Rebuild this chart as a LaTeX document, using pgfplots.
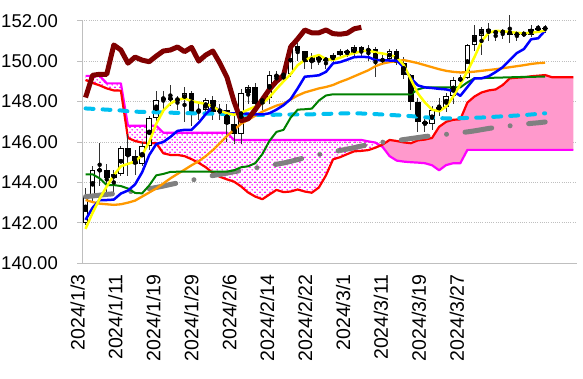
\documentclass[border=0pt]{standalone}
\usepackage{fontspec}
\setmainfont{Liberation Sans}
\usepackage{pgfplots}
\usepackage{pgfplotstable}
\pgfplotsset{compat=1.18}
\usepgfplotslibrary{fillbetween}
\usetikzlibrary{patterns.meta}

\definecolor{cyel}{RGB}{255,255,0}
\definecolor{cblu}{RGB}{0,0,255}
\definecolor{cgrn}{RGB}{0,128,0}
\definecolor{corg}{RGB}{255,153,0}
\definecolor{ccyn}{RGB}{0,192,240}
\definecolor{cgry}{RGB}{128,128,128}
\definecolor{cred}{RGB}{255,0,0}
\definecolor{cmag}{RGB}{255,0,255}
\definecolor{cmar}{RGB}{128,0,0}
\definecolor{cpnk}{RGB}{255,153,204}
\definecolor{caxis}{RGB}{191,191,191}

\pgfdeclarepattern{
  name=pinkdots,
  type=colored,
  bottom left={\pgfpoint{0pt}{0pt}},
  top right={\pgfpoint{5.4pt}{5.4pt}},
  tile size={\pgfpoint{5.4pt}{5.4pt}},
  code={
    \pgfsetfillcolor{cmag}
    \pgfpathcircle{\pgfpoint{1.35pt}{1.35pt}}{0.85pt}
    \pgfpathcircle{\pgfpoint{4.05pt}{4.05pt}}{0.85pt}
    \pgfusepath{fill}
  }
}

\pgfplotstableread{
i O H L C
0 142.0 143.7 141.9 143.3
1 143.3 144.8 143.0 144.6
2 144.55 145.95 143.8 144.65
3 144.6 144.9 143.4 144.2
4 144.2 144.6 143.4 144.4
5 144.4 145.8 144.3 145.7
6 145.7 146.4 144.3 145.3
7 145.3 145.6 144.35 144.9
8 144.9 146.0 144.8 145.8
9 145.8 147.3 145.6 147.2
10 147.2 148.5 147.0 148.1
11 148.1 148.5 147.6 148.2
12 148.2 148.8 147.8 148.1
13 148.05 148.3 147.6 148.15
14 148.1 148.7 146.97 148.4
15 148.4 148.5 146.8 147.5
16 147.5 147.9 147.1 147.6
17 147.6 148.2 147.3 148.1
18 148.1 148.3 147.1 147.5
19 147.5 147.9 147.1 147.6
20 147.6 147.9 146.0 146.9
21 146.9 147.3 145.9 146.4
22 146.4 148.6 145.9 148.4
23 148.4 148.8 147.9 148.7
24 148.7 148.9 147.6 147.9
25 147.9 148.3 147.6 148.2
26 148.2 149.5 147.9 149.3
27 149.25 149.5 148.8 149.3
28 149.3 149.5 148.9 149.35
29 149.35 150.9 149.2 150.75
30 150.75 150.9 150.0 150.5
31 150.5 150.5 149.6 149.95
32 149.95 150.4 149.6 150.2
33 150.2 150.25 149.8 150.05
34 150.05 150.2 149.6 150.1
35 150.1 150.4 149.9 150.3
36 150.3 150.6 150.2 150.5
37 150.5 150.6 150.2 150.4
38 150.4 150.8 150.2 150.7
39 150.7 150.75 150.2 150.5
40 150.5 150.8 150.0 150.6
41 150.6 150.7 149.2 150.0
42 150.0 150.3 149.8 150.1
43 150.1 150.6 150.0 150.5
44 150.5 150.6 149.8 149.9
45 149.9 150.2 149.1 149.3
46 149.3 149.35 147.6 148.0
47 148.0 148.2 146.5 147.0
48 147.0 147.3 146.5 146.9
49 146.9 147.8 146.6 147.6
50 147.6 148.2 147.3 147.75
51 147.75 148.4 147.5 148.3
52 148.3 149.2 147.9 149.05
53 149.05 149.3 148.9 149.15
54 149.15 150.85 149.1 150.8
55 150.8 151.8 150.5 151.3
56 151.25 151.7 150.3 151.6
57 151.6 151.9 151.0 151.42
58 151.45 151.5 151.0 151.4
59 151.4 151.6 151.1 151.5
60 151.5 152.3 150.9 151.3
61 151.3 151.5 151.0 151.35
62 151.35 151.5 151.2 151.3
63 151.3 151.8 151.2 151.6
64 151.6 151.8 151.5 151.6
65 151.6 151.8 151.4 151.65
}\candles

\pgfplotstableread{
i yel blu grn org cyn gry
0 141.7 142.15 144.4 143.13 147.66 143.3
1 142.5 142.75 144.4 143.03 147.64 143.33
2 143.2 143.13 144.2 142.95 147.62 143.37
3 143.8 143.13 143.87 142.92 147.6 143.41
4 144.35 143.15 143.87 142.89 147.58 143.44
5 144.8 143.45 143.82 142.92 147.56 143.48
6 144.92 143.6 143.7 143.0 147.52 143.53
7 145.03 143.9 143.48 143.1 147.5 143.58
8 145.35 144.5 143.46 143.3 147.49 143.64
9 146.0 145.35 143.85 143.5 147.48 143.69
10 146.9 145.9 144.35 143.7 147.47 143.75
11 147.55 146.0 144.42 143.95 147.46 143.82
12 147.9 146.25 144.52 144.2 147.45 143.9
13 148.1 146.55 144.53 144.42 147.44 143.97
14 148.15 146.6 144.53 144.63 147.43 144.04
15 148.02 146.6 144.53 144.85 147.42 144.11
16 147.95 146.95 144.53 145.05 147.42 144.19
17 147.88 147.38 144.53 145.3 147.41 144.26
18 147.75 147.74 144.53 145.6 147.4 144.34
19 147.55 147.58 144.53 145.95 147.39 144.4
20 147.42 147.42 144.53 146.3 147.38 144.46
21 147.35 147.42 144.6 146.6 147.37 144.53
22 147.45 147.42 144.75 146.9 147.36 144.59
23 147.6 147.4 144.8 147.1 147.35 144.65
24 147.75 147.36 144.95 147.3 147.35 144.71
25 147.9 147.36 145.4 147.5 147.34 144.78
26 148.22 147.42 146.05 147.65 147.34 144.84
27 148.62 147.6 146.5 147.8 147.35 144.9
28 149.0 147.82 146.6 147.9 147.35 144.96
29 149.35 148.12 147.2 148.1 147.36 145.04
30 149.8 148.65 147.6 148.3 147.36 145.13
31 150.05 149.23 147.62 148.45 147.37 145.22
32 150.2 149.26 147.65 148.55 147.37 145.31
33 150.3 149.3 148.05 148.65 147.38 145.38
34 150.1 149.47 148.3 148.72 147.39 145.45
35 150.06 149.89 148.36 148.82 147.4 145.52
36 150.17 149.95 148.36 148.97 147.41 145.58
37 150.3 150.07 148.36 149.1 147.42 145.65
38 150.4 150.2 148.36 149.25 147.42 145.72
39 150.48 150.21 148.36 149.4 147.41 145.8
40 150.53 150.2 148.36 149.55 147.4 145.87
41 150.43 150.05 148.36 149.75 147.38 145.94
42 150.38 150.04 148.36 149.88 147.36 145.99
43 150.3 150.03 148.36 149.95 147.34 146.03
44 150.2 150.03 148.36 150.0 147.32 146.07
45 149.8 149.7 148.36 150.05 147.3 146.12
46 149.1 149.15 148.36 149.98 147.28 146.17
47 148.4 148.8 148.6 149.9 147.25 146.22
48 147.95 148.7 148.7 149.8 147.22 146.27
49 147.6 148.67 148.7 149.7 147.2 146.31
50 147.52 148.63 148.7 149.6 147.18 146.35
51 147.75 148.6 148.7 149.52 147.17 146.38
52 148.25 148.52 148.7 149.47 147.17 146.42
53 148.85 148.28 148.7 149.44 147.18 146.46
54 149.5 148.72 148.95 149.45 147.19 146.5
55 150.2 149.15 149.15 149.48 147.2 146.55
56 150.98 149.15 149.16 149.52 147.21 146.61
57 151.4 149.25 149.17 149.56 147.23 146.67
58 151.5 149.46 149.18 149.6 147.25 146.72
59 151.48 149.7 149.19 149.65 147.27 146.76
60 151.44 150.05 149.2 149.7 147.29 146.8
61 151.4 150.4 149.21 149.75 147.31 146.84
62 151.38 150.6 149.22 149.8 147.33 146.88
63 151.4 151.08 149.22 149.86 147.36 146.92
64 151.45 151.13 149.23 149.9 147.39 146.95
65 151.51 151.51 149.23 149.92 147.42 146.99
}\lines

\pgfplotstableread{
i red mag
0 149.07 149.27
1 148.92 149.27
2 148.8 149.27
3 148.65 148.9
4 148.55 148.9
5 148.54 148.9
6 146.2 146.8
7 146.05 146.8
8 145.97 146.8
9 145.94 146.8
10 145.94 146.8
11 145.44 146.46
12 145.36 146.46
13 145.36 146.46
14 145.3 146.46
15 145.15 146.46
16 144.97 146.46
17 144.75 146.46
18 144.47 146.46
19 144.28 146.46
20 144.15 146.46
21 144.04 146.1
22 143.8 146.1
23 143.5 146.1
24 143.3 146.1
25 143.17 146.1
26 143.4 146.1
27 143.63 146.1
28 143.52 146.1
29 143.55 146.1
30 143.65 146.1
31 143.55 146.1
32 143.49 146.1
33 143.75 146.1
34 144.35 146.1
35 145.14 146.1
36 145.25 146.1
37 145.4 146.1
38 145.54 146.1
39 145.56 146.1
40 145.6 146.03
41 145.72 145.97
42 145.87 145.76
43 146.1 145.3
44 146.05 145.08
45 145.98 145.03
46 145.94 145.0
47 146.08 144.98
48 146.12 144.95
49 146.2 144.85
50 146.75 144.6
51 147.0 144.86
52 147.1 144.95
53 147.12 144.95
54 147.95 145.61
55 148.25 145.61
56 148.45 145.61
57 148.55 145.61
58 148.6 145.61
59 148.82 145.61
60 149.15 145.61
61 149.18 145.61
62 149.2 145.61
63 149.25 145.61
64 149.28 145.61
65 149.31 145.61
66 149.2 145.61
67 149.2 145.61
68 149.2 145.61
69 149.2 145.61
}\cloud

\pgfplotstableread{
i chk
0 148.2
1 149.3
2 149.35
3 149.35
4 150.8
5 150.55
6 149.9
7 150.2
8 150.05
9 149.97
10 150.25
11 150.5
12 150.55
13 150.7
14 150.47
15 150.68
16 150.0
17 150.3
18 150.5
19 149.9
20 149.2
21 148.0
22 147.05
23 147.15
24 147.6
25 148.1
26 148.6
27 149.0
28 149.3
29 150.7
30 151.1
31 151.54
32 151.4
33 151.4
34 151.54
35 151.36
36 151.33
37 151.38
38 151.6
39 151.67
}\chikou

\begin{document}
\begin{tikzpicture}
\path (0,0) rectangle (583pt,379pt);
\begin{axis}[
  at={(82pt,115.7pt)}, anchor=south west,
  scale only axis, width=495pt, height=242.6pt,
  xmin=-0.5, xmax=69.5, ymin=140, ymax=152,
  clip=false,
  axis x line*=bottom, axis y line*=left,
  axis line style={draw=caxis, line width=1pt},
  ytick={140,142,...,152},
  ymajorgrids,
  grid style={dash pattern=on 1pt off 1.2pt, draw=caxis, line width=0.9pt},
  tick align=outside, major tick length=5pt,
  ytick style={draw=caxis, line width=0.9pt},
  xtick style={draw=none},
  xtick={0.07,5.43,10.80,16.16,21.53,26.89,32.25,37.62,42.98,48.35,53.71},
  xticklabels={2024/1/3,2024/1/11,2024/1/19,2024/1/29,2024/2/6,2024/2/14,2024/2/22,2024/3/1,2024/3/11,2024/3/19,2024/3/27},
  x tick label style={font=\fontsize{19.5}{20}\selectfont, inner sep=0pt, xshift=-8.5pt, yshift=-6pt, rotate=90, anchor=east},
  y tick label style={font=\fontsize{18.5}{20}\selectfont, inner sep=0pt, anchor=east, xshift=-19pt,
    /pgf/number format/.cd, fixed, fixed zerofill, precision=2, assume math mode=true},
  every axis plot/.append style={line join=round},
]
% cloud paths
\addplot[draw=none, name path=R] table[x=i, y=red] {\cloud};
\addplot[draw=none, name path=M] table[x=i, y=mag] {\cloud};
\addplot[pattern=pinkdots, draw=none] fill between[of=M and R, soft clip={domain=0:41.6}];
\addplot[fill=cpnk, draw=none] fill between[of=R and M, soft clip={domain=41.6:69}];
\addplot[cmag, line width=2.2pt] table[x=i, y=mag] {\cloud};
\addplot[cred, line width=2.2pt] table[x=i, y=red] {\cloud};

% candles: wicks
\addplot[only marks, mark=none, error bars/.cd, y dir=both, y explicit, error mark=none,
  error bar style={line width=1pt, black!80}]
  table[x=i, y expr={(\thisrow{H}+\thisrow{L})/2}, y error expr={(\thisrow{H}-\thisrow{L})/2}] {\candles};
% candles: bodies (black)
\addplot[only marks, mark=none, error bars/.cd, y dir=both, y explicit, error mark=none,
  error bar style={line width=5.6pt, black}]
  table[x=i, y expr={(\thisrow{O}+\thisrow{C})/2}, y error expr={max(abs(\thisrow{C}-\thisrow{O})/2,0.03)}] {\candles};
% candles: white interior for rising candles
\addplot[only marks, mark=none, error bars/.cd, y dir=both, y explicit, error mark=none,
  error bar style={line width=3.6pt, white}]
  table[x=i, y expr={(\thisrow{O}+\thisrow{C})/2}, y error expr={max(0,(\thisrow{C}-\thisrow{O})/2-0.05)}] {\candles};

% moving averages and lines
\addplot[cgry, line width=5pt, line cap=round, dash pattern=on 27pt off 18.6pt on 0.01pt off 18.6pt] table[x=i, y=gry] {\lines};
\addplot[ccyn, line width=4pt, line cap=round, dash pattern=on 8pt off 9pt] table[x=i, y=cyn] {\lines};
\addplot[corg, line width=2.3pt] table[x=i, y=org] {\lines};
\addplot[cgrn, line width=2pt] table[x=i, y=grn] {\lines};
\addplot[cblu, line width=2.5pt] table[x=i, y=blu] {\lines};
\addplot[cyel, line width=2.5pt] table[x=i, y=yel] {\lines};
\addplot[cmar, line width=5pt] table[x=i, y=chk] {\chikou};
\end{axis}
\end{tikzpicture}
\end{document}
